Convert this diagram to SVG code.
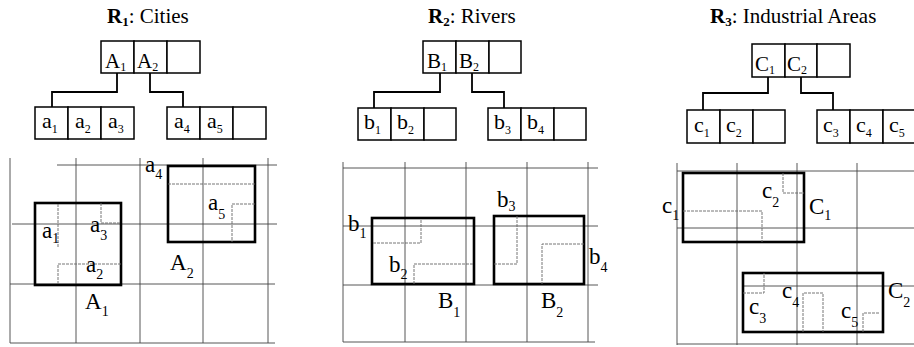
<svg xmlns="http://www.w3.org/2000/svg" width="914" height="347" viewBox="0 0 914 347" font-family="'Liberation Serif', 'DejaVu Serif', serif">
<style>
text{font-family:'Liberation Serif','DejaVu Serif',serif;fill:#000}
.ti{font-size:21px}
.tb{font-weight:bold}
.ts{font-size:13px}
.n{font-size:21px}
.nl{font-size:22px}
.ns{font-size:12px}
.g{font-size:23px}
.gs{font-size:14px}
.cell{fill:#fff;stroke:#000;stroke-width:1.5}
.con{fill:none;stroke:#000;stroke-width:1.8}
.grid{fill:none;stroke:#444;stroke-width:0.9}
.mbr{fill:none;stroke:#000;stroke-width:2.6}
.obj{fill:none;stroke:#666;stroke-width:0.9;stroke-dasharray:3 1}
</style>
<rect width="914" height="347" fill="#fff"/>

<!-- Titles -->
<g id="title1"><text class="ti" x="107" y="23"><tspan class="tb">R</tspan><tspan class="tb ts" dy="3">1</tspan><tspan dy="-3">: Cities</tspan></text></g>
<g id="title2"><text class="ti" x="428" y="23"><tspan class="tb">R</tspan><tspan class="tb ts" dy="3">2</tspan><tspan dy="-3">: Rivers</tspan></text></g>
<g id="title3"><text class="ti" x="710" y="23"><tspan class="tb">R</tspan><tspan class="tb ts" dy="3">3</tspan><tspan dy="-3">: Industrial Areas</tspan></text></g>

<!-- Connectors -->
<g id="connectors">
<path class="con" d="M117 73V92H52V107"/>
<path class="con" d="M150 73V92H183V107"/>
<path class="con" d="M440 73V92H374V108"/>
<path class="con" d="M472 73V92H504V108"/>
<path class="con" d="M768 77V93H703V110"/>
<path class="con" d="M801 77V93H833V110"/>
</g>

<!-- Panel 1 tree -->
<g id="nodeA">
<rect class="cell" x="101" y="41" width="33" height="32"/><rect class="cell" x="134" y="41" width="33" height="32"/><rect class="cell" x="167" y="41" width="33" height="32"/>
<text class="n" x="105" y="68">A<tspan class="ns" dy="3">1</tspan></text>
<text class="n" x="137" y="68">A<tspan class="ns" dy="3">2</tspan></text>
</g>
<g id="nodeA1">
<rect class="cell" x="35" y="107" width="33" height="32"/><rect class="cell" x="68" y="107" width="33" height="32"/><rect class="cell" x="101" y="107" width="33" height="32"/>
<text class="nl" x="42" y="128">a<tspan class="ns" dy="5">1</tspan></text>
<text class="nl" x="75" y="128">a<tspan class="ns" dy="5">2</tspan></text>
<text class="nl" x="108" y="128">a<tspan class="ns" dy="5">3</tspan></text>
</g>
<g id="nodeA2">
<rect class="cell" x="167" y="107" width="33" height="32"/><rect class="cell" x="200" y="107" width="33" height="32"/><rect class="cell" x="233" y="107" width="33" height="32"/>
<text class="nl" x="174" y="128">a<tspan class="ns" dy="5">4</tspan></text>
<text class="nl" x="207" y="128">a<tspan class="ns" dy="5">5</tspan></text>
</g>

<!-- Panel 2 tree -->
<g id="nodeB">
<rect class="cell" x="423" y="41" width="33" height="32"/><rect class="cell" x="456" y="41" width="33" height="32"/><rect class="cell" x="489" y="41" width="32" height="32"/>
<text class="n" x="427" y="68">B<tspan class="ns" dy="3">1</tspan></text>
<text class="n" x="459" y="68">B<tspan class="ns" dy="3">2</tspan></text>
</g>
<g id="nodeB1">
<rect class="cell" x="358" y="108" width="33" height="32"/><rect class="cell" x="391" y="108" width="33" height="32"/><rect class="cell" x="424" y="108" width="32" height="32"/>
<text class="nl" x="364" y="129">b<tspan class="ns" dy="5">1</tspan></text>
<text class="nl" x="397" y="129">b<tspan class="ns" dy="5">2</tspan></text>
</g>
<g id="nodeB2">
<rect class="cell" x="488" y="108" width="33" height="32"/><rect class="cell" x="521" y="108" width="33" height="32"/><rect class="cell" x="554" y="108" width="32" height="32"/>
<text class="nl" x="494" y="129">b<tspan class="ns" dy="5">3</tspan></text>
<text class="nl" x="527" y="129">b<tspan class="ns" dy="5">4</tspan></text>
</g>

<!-- Panel 3 tree -->
<g id="nodeC">
<rect class="cell" x="752" y="44" width="33" height="33"/><rect class="cell" x="785" y="44" width="32" height="33"/><rect class="cell" x="817" y="44" width="33" height="33"/>
<text class="n" x="755" y="71">C<tspan class="ns" dy="3">1</tspan></text>
<text class="n" x="787" y="71">C<tspan class="ns" dy="3">2</tspan></text>
</g>
<g id="nodeC1">
<rect class="cell" x="687" y="110" width="33" height="33"/><rect class="cell" x="720" y="110" width="33" height="33"/><rect class="cell" x="753" y="110" width="32" height="33"/>
<text class="nl" x="694" y="132">c<tspan class="ns" dy="5">1</tspan></text>
<text class="nl" x="726" y="132">c<tspan class="ns" dy="5">2</tspan></text>
</g>
<g id="nodeC2">
<rect class="cell" x="817" y="110" width="33" height="33"/><rect class="cell" x="850" y="110" width="33" height="33"/><rect class="cell" x="883" y="110" width="33" height="33"/>
<text class="nl" x="823" y="132">c<tspan class="ns" dy="5">3</tspan></text>
<text class="nl" x="856" y="132">c<tspan class="ns" dy="5">4</tspan></text>
<text class="nl" x="889" y="132">c<tspan class="ns" dy="5">5</tspan></text>
</g>

<!-- Panel 1 grid -->
<g id="grid1">
<path class="grid" d="M10 158V343M76 158V343M140 158V343M203 158V343M268 158V343M57 165H277M12 224H277M10 284H275M10 343H275"/>
<rect class="mbr" x="35" y="203" width="86" height="82"/>
<path class="obj" d="M58 204V247M101 203V223H121M58 284V264H121"/>
<rect class="mbr" x="168" y="166" width="87" height="76"/>
<path class="obj" d="M168 184H255M255 204H232V242"/>
<text class="g" x="42" y="238">a<tspan class="gs" dy="5">1</tspan></text>
<text class="g" x="90" y="232">a<tspan class="gs" dy="8">3</tspan></text>
<text class="g" x="86" y="272">a<tspan class="gs" dy="7">2</tspan></text>
<text class="g" x="85" y="309">A<tspan class="gs" dy="7">1</tspan></text>
<text class="g" x="145" y="172">a<tspan class="gs" dy="7">4</tspan></text>
<text class="g" x="208" y="210">a<tspan class="gs" dy="9">5</tspan></text>
<text class="g" x="170" y="270">A<tspan class="gs" dy="8">2</tspan></text>
</g>

<!-- Panel 2 grid -->
<g id="grid2">
<path class="grid" d="M343 162V342M405 162V342M466 162V342M527 162V342M588 162V342M343 168H598M343 226H598M343 285H598M343 342H595"/>
<rect class="mbr" x="372" y="218" width="102" height="66"/>
<path class="obj" d="M421 220V243H372M414 284V264H474"/>
<rect class="mbr" x="494" y="216" width="90" height="68"/>
<path class="obj" d="M517 216V264H494M584 244H542V284"/>
<text class="g" x="348" y="231">b<tspan class="gs" dy="7">1</tspan></text>
<text class="g" x="389" y="272">b<tspan class="gs" dy="7">2</tspan></text>
<text class="g" x="438" y="308">B<tspan class="gs" dy="9">1</tspan></text>
<text class="g" x="497" y="207">b<tspan class="gs" dy="4">3</tspan></text>
<text class="g" x="589" y="264">b<tspan class="gs" dy="8">4</tspan></text>
<text class="g" x="541" y="308">B<tspan class="gs" dy="9">2</tspan></text>
</g>

<!-- Panel 3 grid -->
<g id="grid3">
<path class="grid" d="M677 163V345M737 163V345M797 163V345M857 163V345M677 171H914M677 228H914M743 286H914M677 344H914"/>
<rect class="mbr" x="683" y="173" width="121" height="69"/>
<path class="obj" d="M783 173V193H804M683 211H762V242"/>
<rect class="mbr" x="743" y="273" width="140" height="59"/>
<path class="obj" d="M743 293H764V273M803 332V293H823V332M863 332V313H880"/>
<text class="g" x="662" y="213">c<tspan class="gs" dy="7">1</tspan></text>
<text class="g" x="762" y="198">c<tspan class="gs" dy="9">2</tspan></text>
<text class="g" x="809" y="214">C<tspan class="gs" dy="6">1</tspan></text>
<text class="g" x="749" y="314">c<tspan class="gs" dy="9">3</tspan></text>
<text class="g" x="782" y="298">c<tspan class="gs" dy="9">4</tspan></text>
<text class="g" x="841" y="318">c<tspan class="gs" dy="9">5</tspan></text>
<text class="g" x="888" y="298">C<tspan class="gs" dy="9">2</tspan></text>
</g>
</svg>
